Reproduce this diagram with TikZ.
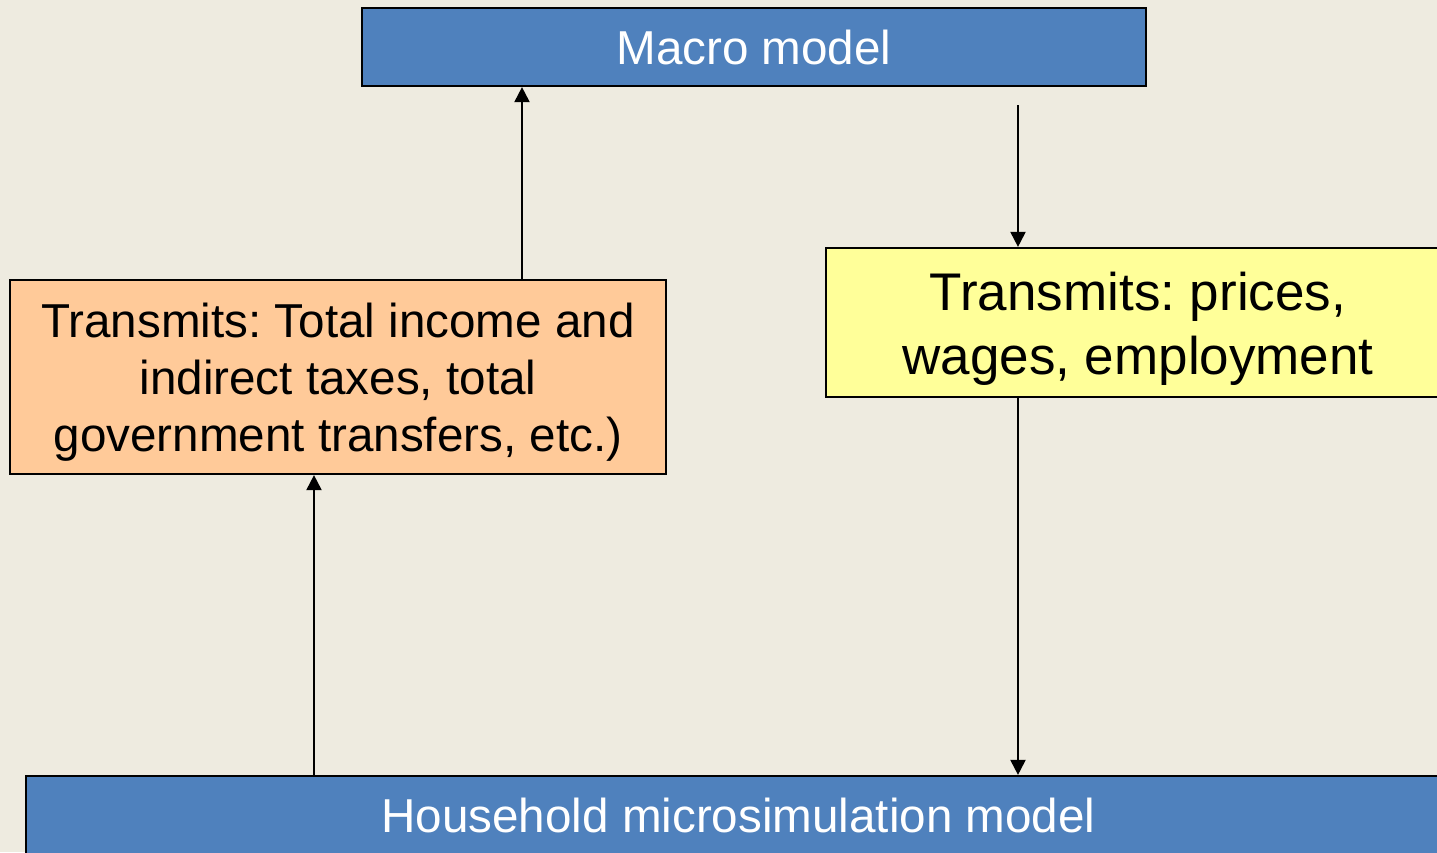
\documentclass[tikz,border=0pt]{standalone}
\usepackage{fontspec}
\setmainfont{Liberation Sans}
\usetikzlibrary{arrows.meta}
\frenchspacing
\definecolor{bgc}{HTML}{EEEBE0}
\definecolor{bluebox}{HTML}{4F81BD}
\definecolor{orangebox}{HTML}{FFCA99}
\definecolor{yellowbox}{HTML}{FFFF99}
\tikzset{
  boxbase/.style={draw=black, line width=2.2pt, rectangle, inner sep=0pt, align=center},
  bluestyle/.style={boxbase, fill=bluebox, text=white, font=\fontsize{47.6}{57}\selectfont\frenchspacing},
  orangestyle/.style={boxbase, fill=orangebox, text=black, font=\fontsize{47.6}{57}\selectfont\frenchspacing},
  yellowstyle/.style={boxbase, fill=yellowbox, text=black, font=\fontsize{53}{64}\selectfont\frenchspacing},
  conn/.style={line width=2pt, -{Triangle[width=15pt,length=15pt]}}
}
\begin{document}
\begin{tikzpicture}[x=1pt,y=-1pt]
\useasboundingbox (0,0) rectangle (1437,852);
\fill[bgc] (0,0) rectangle (1437,852);
\clip (0,0) rectangle (1437,852);
\node[bluestyle, minimum width=784pt, minimum height=78pt] (macro) at (754,47) {Macro model};
\node[orangestyle, minimum width=656pt, minimum height=194pt] (orange) at (338,377)
  {\rule{0pt}{44pt}Transmits: Total income and\\indirect taxes, total\\government transfers, etc.)};
\node[yellowstyle, minimum width=624pt, minimum height=149pt] (yellow) at (1138,322.5)
  {\rule{0pt}{50pt}Transmits: prices,\\wages, employment};
\node[bluestyle, minimum width=1425pt, minimum height=78pt] (house) at (738.5,815)
  {Household microsimulation model};
\coordinate (xa) at (522,0);
\coordinate (xb) at (1018,0);
\coordinate (xc) at (314,0);
\draw[conn] (orange.north -| xa) -- (macro.south -| xa);
\draw[conn, shorten <=18pt] (macro.south -| xb) -- (yellow.north -| xb);
\draw[conn] (yellow.south -| xb) -- (house.north -| xb);
\draw[conn] (house.north -| xc) -- (orange.south -| xc);
\end{tikzpicture}
\end{document}
